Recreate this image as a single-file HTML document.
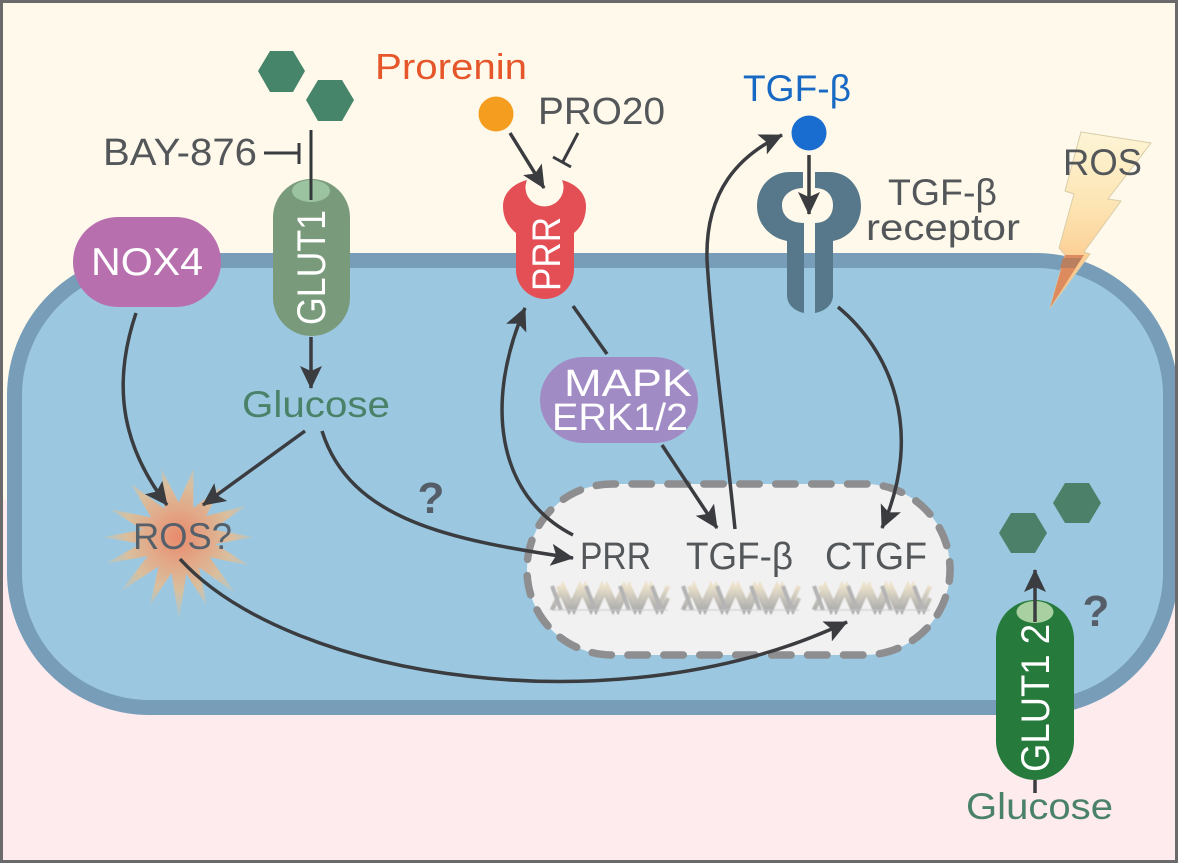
<!DOCTYPE html>
<html><head><meta charset="utf-8"><style>
html,body{margin:0;padding:0;background:#fff}
svg{display:block}
text{font-family:"Liberation Sans","DejaVu Sans",sans-serif}
.k{fill:#54575a}
.w{fill:#fff}
.c{fill:none;stroke:#3a3c40;stroke-width:3.5}
.a{marker-end:url(#ah)}
</style></head><body>
<svg xmlns="http://www.w3.org/2000/svg" width="1178" height="863" viewBox="0 0 1178 863">
<defs>
<marker id="ah" markerUnits="userSpaceOnUse" markerWidth="28" markerHeight="28" refX="22" refY="14" orient="auto">
<path d="M0,3 L23,14 L0,25 L5,14 Z" fill="#3a3c40"/>
</marker>
<radialGradient id="star" gradientUnits="userSpaceOnUse" cx="0" cy="0" r="82">
<stop offset="0" stop-color="#e98a6c"/><stop offset=".35" stop-color="#e2a988"/><stop offset=".65" stop-color="#d9bf9e"/><stop offset="1" stop-color="#a5c8d6"/>
</radialGradient>
<linearGradient id="bolt" x1="0" y1="0" x2="0" y2="1">
<stop offset="0" stop-color="#fdf5d6"/><stop offset=".45" stop-color="#fde3b0"/><stop offset=".8" stop-color="#fbc88c"/><stop offset="1" stop-color="#f4b07a"/>
</linearGradient>
<linearGradient id="dg" gradientUnits="userSpaceOnUse" x1="0" y1="0" x2="0" y2="24">
<stop offset="0" stop-color="#ece2cb"/><stop offset=".5" stop-color="#c9c5bb"/><stop offset="1" stop-color="#adadad"/>
</linearGradient>
<filter id="soft" x="-5%" y="-20%" width="110%" height="140%"><feGaussianBlur stdDeviation="0.6"/></filter>
<g id="dna" filter="url(#soft)" fill="none">
<path d="M0,24L11,0L22,24L33,0L44,24L55,0L66,24L77,0L88,24L99,0L110,24L116,12" stroke="url(#dg)" stroke-width="4.5"/>
<path d="M6,0L17,24L28,0L39,24L50,0L61,24L72,0L83,24L94,0L105,24L116,0" stroke="url(#dg)" stroke-width="4.5"/>
<path d="M0,0L9,24M34,0L43,24M68,0L77,24M100,0L109,24" stroke="#b4b4b4" stroke-width="4"/>
<path d="M0,24H116" stroke="#c9c9c9" stroke-width="1.5" opacity=".7"/>
</g>
</defs>

<rect width="1178" height="500" fill="#fef9ea"/>
<rect y="500" width="1178" height="363" fill="#fdebed"/>

<!-- cell -->
<rect x="14.5" y="260.5" width="1156" height="447" rx="135" ry="135" fill="#9bc8e0" stroke="#779db9" stroke-width="15"/>

<!-- bolt -->
<polygon points="1081,132 1151,143 1108,199 1121,201 1084,252 1090,254 1050,308 1065,255 1059,248 1074,194 1065,191" fill="url(#bolt)" stroke="#d9cda8" stroke-width="1"/>
<polygon points="1065,255 1084,255 1050,308" fill="#dd8a5e"/>
<polygon points="1063,258 1082,258 1075,268 1060,268" fill="#b9805f"/>
<text x="1063" y="175" font-size="37" class="k" textLength="79" lengthAdjust="spacingAndGlyphs">ROS</text>

<!-- star -->
<g transform="translate(179,537)" fill="url(#star)">
<circle r="32"/>
<polygon points="-9,-26 -3,-70 9,-26" transform="rotate(-12)"/>
<polygon points="-9,-26 0,-70 9,-26" transform="rotate(12)"/>
<polygon points="-9,-26 0,-66 9,-26" transform="rotate(40)"/>
<polygon points="-9,-26 0,-74 9,-26" transform="rotate(65)"/>
<polygon points="-9,-26 0,-74 9,-26" transform="rotate(90)"/>
<polygon points="-9,-26 0,-76 9,-26" transform="rotate(112)"/>
<polygon points="-9,-26 0,-80 9,-26" transform="rotate(135)"/>
<polygon points="-9,-26 0,-74 9,-26" transform="rotate(158)"/>
<polygon points="-9,-26 0,-84 9,-26" transform="rotate(180)"/>
<polygon points="-9,-26 0,-74 9,-26" transform="rotate(203)"/>
<polygon points="-9,-26 0,-80 9,-26" transform="rotate(227)"/>
<polygon points="-9,-26 0,-78 9,-26" transform="rotate(250)"/>
<polygon points="-9,-26 0,-76 9,-26" transform="rotate(270)"/>
<polygon points="-9,-26 0,-74 9,-26" transform="rotate(292)"/>
<polygon points="-9,-26 0,-72 9,-26" transform="rotate(318)"/>
</g>
<text x="133" y="549" font-size="37" fill="#56606a" textLength="99" lengthAdjust="spacingAndGlyphs">ROS?</text>

<!-- nucleus -->
<rect x="527" y="484" width="423" height="171" rx="85" fill="#f1f1f1" stroke="#8e8e90" stroke-width="7.5" stroke-dasharray="19.5 16.43" stroke-linecap="round" stroke-dashoffset="16"/>
<use href="#dna" x="552" y="586"/>
<use href="#dna" x="683" y="586"/>
<use href="#dna" x="814" y="586"/>
<text x="580" y="569" font-size="38" class="k" textLength="71" lengthAdjust="spacingAndGlyphs">PRR</text>
<text x="686" y="569" font-size="38" class="k" textLength="107" lengthAdjust="spacingAndGlyphs">TGF-β</text>
<text x="825" y="569" font-size="38" class="k" textLength="102" lengthAdjust="spacingAndGlyphs">CTGF</text>

<!-- hexagons -->
<polygon points="258,71 270,51 293,51 305,71 293,92 270,92" fill="#47856b"/>
<polygon points="306,100 318,80 342,80 354,100 342,121 318,121" fill="#47856b"/>
<polygon points="999,533 1011,513 1035,513 1047,533 1035,553 1011,553" fill="#4c8068"/>
<polygon points="1053,503 1065,483 1089,483 1101,503 1089,523 1065,523" fill="#4c8068"/>

<!-- GLUT1 -->
<rect x="273" y="179" width="77" height="157" rx="38.5" fill="#7a9b7b"/>
<ellipse cx="311" cy="191" rx="19" ry="11" fill="#9cc3a0"/>
<path d="M311,130V200" stroke="#33383a" stroke-width="3" fill="none"/>
<text transform="translate(325,325) rotate(-90)" font-size="40" class="w" textLength="115" lengthAdjust="spacingAndGlyphs">GLUT1</text>
<text x="103" y="165" font-size="38" class="k" textLength="154" lengthAdjust="spacingAndGlyphs">BAY-876</text>
<path d="M264,153H299M299,143V164" stroke="#3a3c40" stroke-width="3" fill="none"/>

<!-- NOX4 -->
<rect x="73" y="217" width="148" height="90" rx="45" fill="#b86fae"/>
<text x="91" y="275" font-size="39" class="w" textLength="112" lengthAdjust="spacingAndGlyphs">NOX4</text>

<!-- texts -->
<text x="242" y="417" font-size="37" fill="#4a8269" textLength="148" lengthAdjust="spacingAndGlyphs">Glucose</text>
<text x="375" y="79" font-size="36" fill="#e5572a" textLength="152" lengthAdjust="spacingAndGlyphs">Prorenin</text>
<text x="538" y="124" font-size="38" class="k" textLength="127" lengthAdjust="spacingAndGlyphs">PRO20</text>
<text x="743" y="101" font-size="37" fill="#1769c4" textLength="108" lengthAdjust="spacingAndGlyphs">TGF-β</text>
<text x="888" y="205" font-size="37" class="k" textLength="109" lengthAdjust="spacingAndGlyphs">TGF-β</text>
<text x="866" y="240" font-size="37" class="k" textLength="154" lengthAdjust="spacingAndGlyphs">receptor</text>
<text x="431" y="513" font-size="44" font-weight="bold" fill="#555d68" text-anchor="middle">?</text>
<text x="1096" y="626" font-size="44" font-weight="bold" fill="#555d68" text-anchor="middle">?</text>

<!-- PRR -->
<circle cx="496" cy="114" r="17.5" fill="#f59d1e"/>
<path d="M527,180C512,184 503,194 503,206C503,220 510,228 516,233L516,270A29,29 0 0 0 574,270L574,233C580,228 586,220 586,206C586,194 577,184 562,180A19,19 0 1 1 527,180Z" fill="#e34f55"/>
<text transform="translate(560,291) rotate(-90)" font-size="40" class="w" textLength="74" lengthAdjust="spacingAndGlyphs">PRR</text>
<path class="c a" d="M510,133L544,188"/>
<path d="M578,133L562.7,162M553,157L571,167" stroke="#3a3c40" stroke-width="3" fill="none"/>

<!-- TGF receptor -->
<circle cx="809" cy="133" r="17.5" fill="#1a6dd0"/>
<g fill="#56788a">
<path d="M803,172L790,172C770,172 757,188 757,206C757,224 770,238 787,241L787,295C787,305 795,311 804,313L804,223C790,223 782,216 782,205C782,195 792,188 803,188Z"/>
<path d="M815,172L829,172C849,172 861,188 861,206C861,224 849,238 833,241L833,295C833,305 825,311 815,313L815,223C826,223 833,216 833,205C833,195 826,188 815,188Z"/>
</g>
<path class="c a" d="M809,155V214"/>

<!-- MAPK -->
<path class="c" d="M573,306L607,354"/>
<rect x="540" y="357" width="158" height="86" rx="43" fill="#a18bc5"/>
<text x="564" y="396" font-size="38" class="w" textLength="128" lengthAdjust="spacingAndGlyphs">MAPK</text>
<text x="552" y="430" font-size="38" class="w" textLength="136" lengthAdjust="spacingAndGlyphs">ERK1/2</text>
<path class="c a" d="M662,445L717,528"/>

<!-- arrows -->
<path class="c a" d="M136,313C110,390 125,450 167,505"/>
<path class="c a" d="M311,337V388"/>
<path class="c a" d="M305,431L203,505"/>
<path class="c a" d="M322,431C350,520 450,540 573,558"/>
<path class="c a" d="M180,559C290,680 620,730 847,622"/>
<path class="c a" d="M573,535C495,495 485,400 525,308"/>
<path class="c a" d="M735,529C725,430 712,340 707,260C705,190 740,155 782,135"/>
<path class="c a" d="M838,307C890,350 925,430 882,528"/>

<!-- GLUT12 -->
<rect x="996" y="600" width="78" height="180" rx="39" fill="#267a3c"/>
<ellipse cx="1035" cy="612" rx="18.5" ry="11" fill="#a9d0a0"/>
<path class="c a" d="M1035,622V570"/>
<path d="M1035,780V793" stroke="#3a3c40" stroke-width="3.5"/>
<text transform="translate(1049,772) rotate(-90)" font-size="40" class="w" textLength="148" lengthAdjust="spacingAndGlyphs">GLUT1 2</text>
<text x="966" y="819" font-size="37" fill="#4a8269" textLength="147" lengthAdjust="spacingAndGlyphs">Glucose</text>

<!-- frame -->
<rect x="1.5" y="1.5" width="1175" height="860" fill="none" stroke="#6a6a6c" stroke-width="3"/>
</svg>
</body></html>
